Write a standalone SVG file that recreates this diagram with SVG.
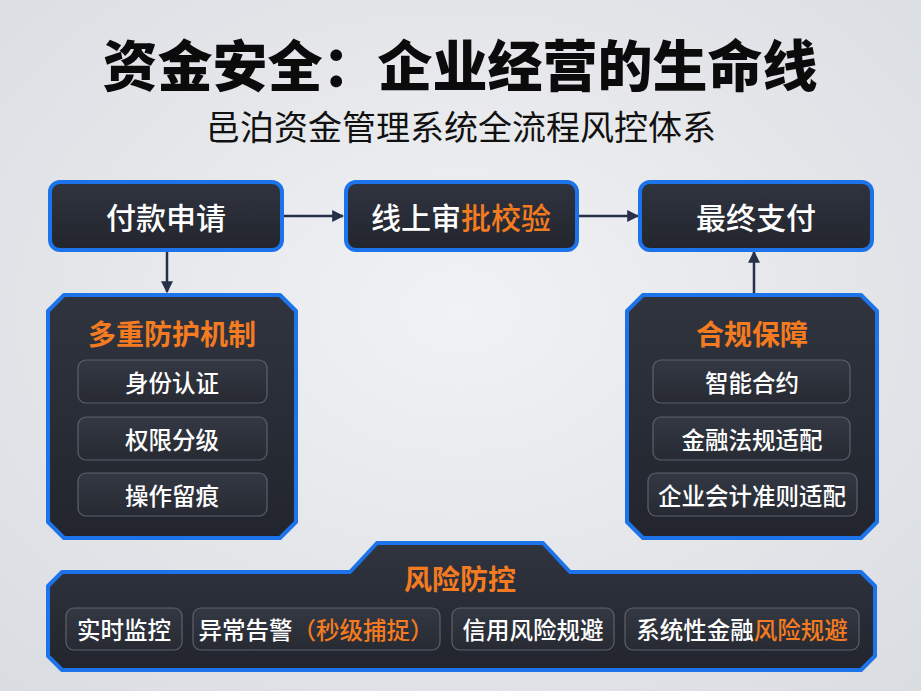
<svg xmlns="http://www.w3.org/2000/svg" width="921" height="691" viewBox="0 0 921 691">
<defs>
<radialGradient id="bg" cx="0.5" cy="0.45" r="0.75">
<stop offset="0" stop-color="#f1f2f4"/>
<stop offset="1" stop-color="#d9dce1"/>
</radialGradient>
<linearGradient id="dark" x1="0" y1="0" x2="0" y2="1">
<stop offset="0" stop-color="#30343f"/>
<stop offset="1" stop-color="#22252d"/>
</linearGradient>
<linearGradient id="pill" x1="0" y1="0" x2="0" y2="1">
<stop offset="0" stop-color="#333843"/>
<stop offset="1" stop-color="#272a32"/>
</linearGradient>
<marker id="ah" viewBox="0 0 10 10" refX="9" refY="5" markerWidth="12" markerHeight="12" markerUnits="userSpaceOnUse" orient="auto">
<path d="M0,0 L10,5 L0,10 Z" fill="#27304a"/>
</marker>
</defs>
<style>
.box{fill:url(#dark);stroke:#1d74ea;stroke-width:4;stroke-linejoin:round}
.pill{fill:url(#pill);stroke:#5c616c;stroke-width:1.2}
.t{font-family:"Noto Sans CJK SC","Noto Sans",sans-serif;text-anchor:middle;dominant-baseline:central}
.lbl{font-size:30px;font-weight:500;fill:#ffffff}
.head{font-size:28px;font-weight:bold;fill:#f47b20}
.item{font-size:23.5px;font-weight:500;fill:#ffffff}
.or{fill:#f47b20}
.conn{stroke:#27304a;stroke-width:2.5;fill:none}
</style>
<rect width="921" height="691" fill="url(#bg)"/>
<text class="t" x="460" y="62" font-size="55" font-weight="900" fill="#0b0b0b">资金安全：企业经营的生命线</text>
<text class="t" x="461" y="125" font-size="34" fill="#111111">邑泊资金管理系统全流程风控体系</text>

<g id="connectors">
<line class="conn" x1="284" y1="216" x2="343" y2="216" marker-end="url(#ah)"/>
<line class="conn" x1="579" y1="216" x2="638" y2="216" marker-end="url(#ah)"/>
<line class="conn" x1="167" y1="252" x2="167" y2="292" marker-end="url(#ah)"/>
<line class="conn" x1="754" y1="293" x2="754" y2="252" marker-end="url(#ah)"/>
</g>

<g id="n-apply">
<rect class="box" x="50" y="182" width="232" height="68" rx="10"/>
<text class="t lbl" x="166" y="216">付款申请</text>
</g>
<g id="n-review">
<rect class="box" x="346" y="182" width="231" height="68" rx="10"/>
<text class="t lbl" x="461" y="216">线上审<tspan class="or">批校验</tspan></text>
</g>
<g id="n-pay">
<rect class="box" x="640" y="182" width="232" height="68" rx="10"/>
<text class="t lbl" x="756" y="216">最终支付</text>
</g>

<g id="n-protect">
<polygon class="box" points="64,295 280,295 296,311 296,522 280,538 64,538 48,522 48,311"/>
<text class="t head" x="172" y="333">多重防护机制</text>
<rect class="pill" x="78" y="360" width="189" height="43" rx="8"/>
<text class="t item" x="172" y="382">身份认证</text>
<rect class="pill" x="78" y="417" width="189" height="43" rx="8"/>
<text class="t item" x="172" y="439">权限分级</text>
<rect class="pill" x="78" y="473" width="189" height="43" rx="8"/>
<text class="t item" x="172" y="495">操作留痕</text>
</g>

<g id="n-compliance">
<polygon class="box" points="643,295 861,295 877,311 877,522 861,538 643,538 627,522 627,311"/>
<text class="t head" x="752" y="333">合规保障</text>
<rect class="pill" x="653" y="360" width="197" height="43" rx="8"/>
<text class="t item" x="752" y="382">智能合约</text>
<rect class="pill" x="653" y="417" width="197" height="43" rx="8"/>
<text class="t item" x="752" y="439">金融法规适配</text>
<rect class="pill" x="648" y="473" width="209" height="43" rx="8"/>
<text class="t item" x="752" y="495">企业会计准则适配</text>
</g>

<g id="n-risk">
<path class="box" d="M62,572 L350,572 L377,543 L543,543 L570,572 L861,572 L875,586 L875,656 L861,670 L62,670 L48,656 L48,586 Z"/>
<text class="t head" x="460" y="578">风险防控</text>
<rect class="pill" x="66" y="608" width="116" height="42" rx="8"/>
<text class="t item" x="124" y="629">实时监控</text>
<rect class="pill" x="193" y="608" width="247" height="42" rx="8"/>
<text class="t item" x="316" y="629">异常告警<tspan class="or">（秒级捕捉）</tspan></text>
<rect class="pill" x="452" y="608" width="162" height="42" rx="8"/>
<text class="t item" x="533" y="629">信用风险规避</text>
<rect class="pill" x="625" y="608" width="234" height="42" rx="8"/>
<text class="t item" x="742" y="629">系统性金融<tspan class="or">风险规避</tspan></text>
</g>
</svg>
